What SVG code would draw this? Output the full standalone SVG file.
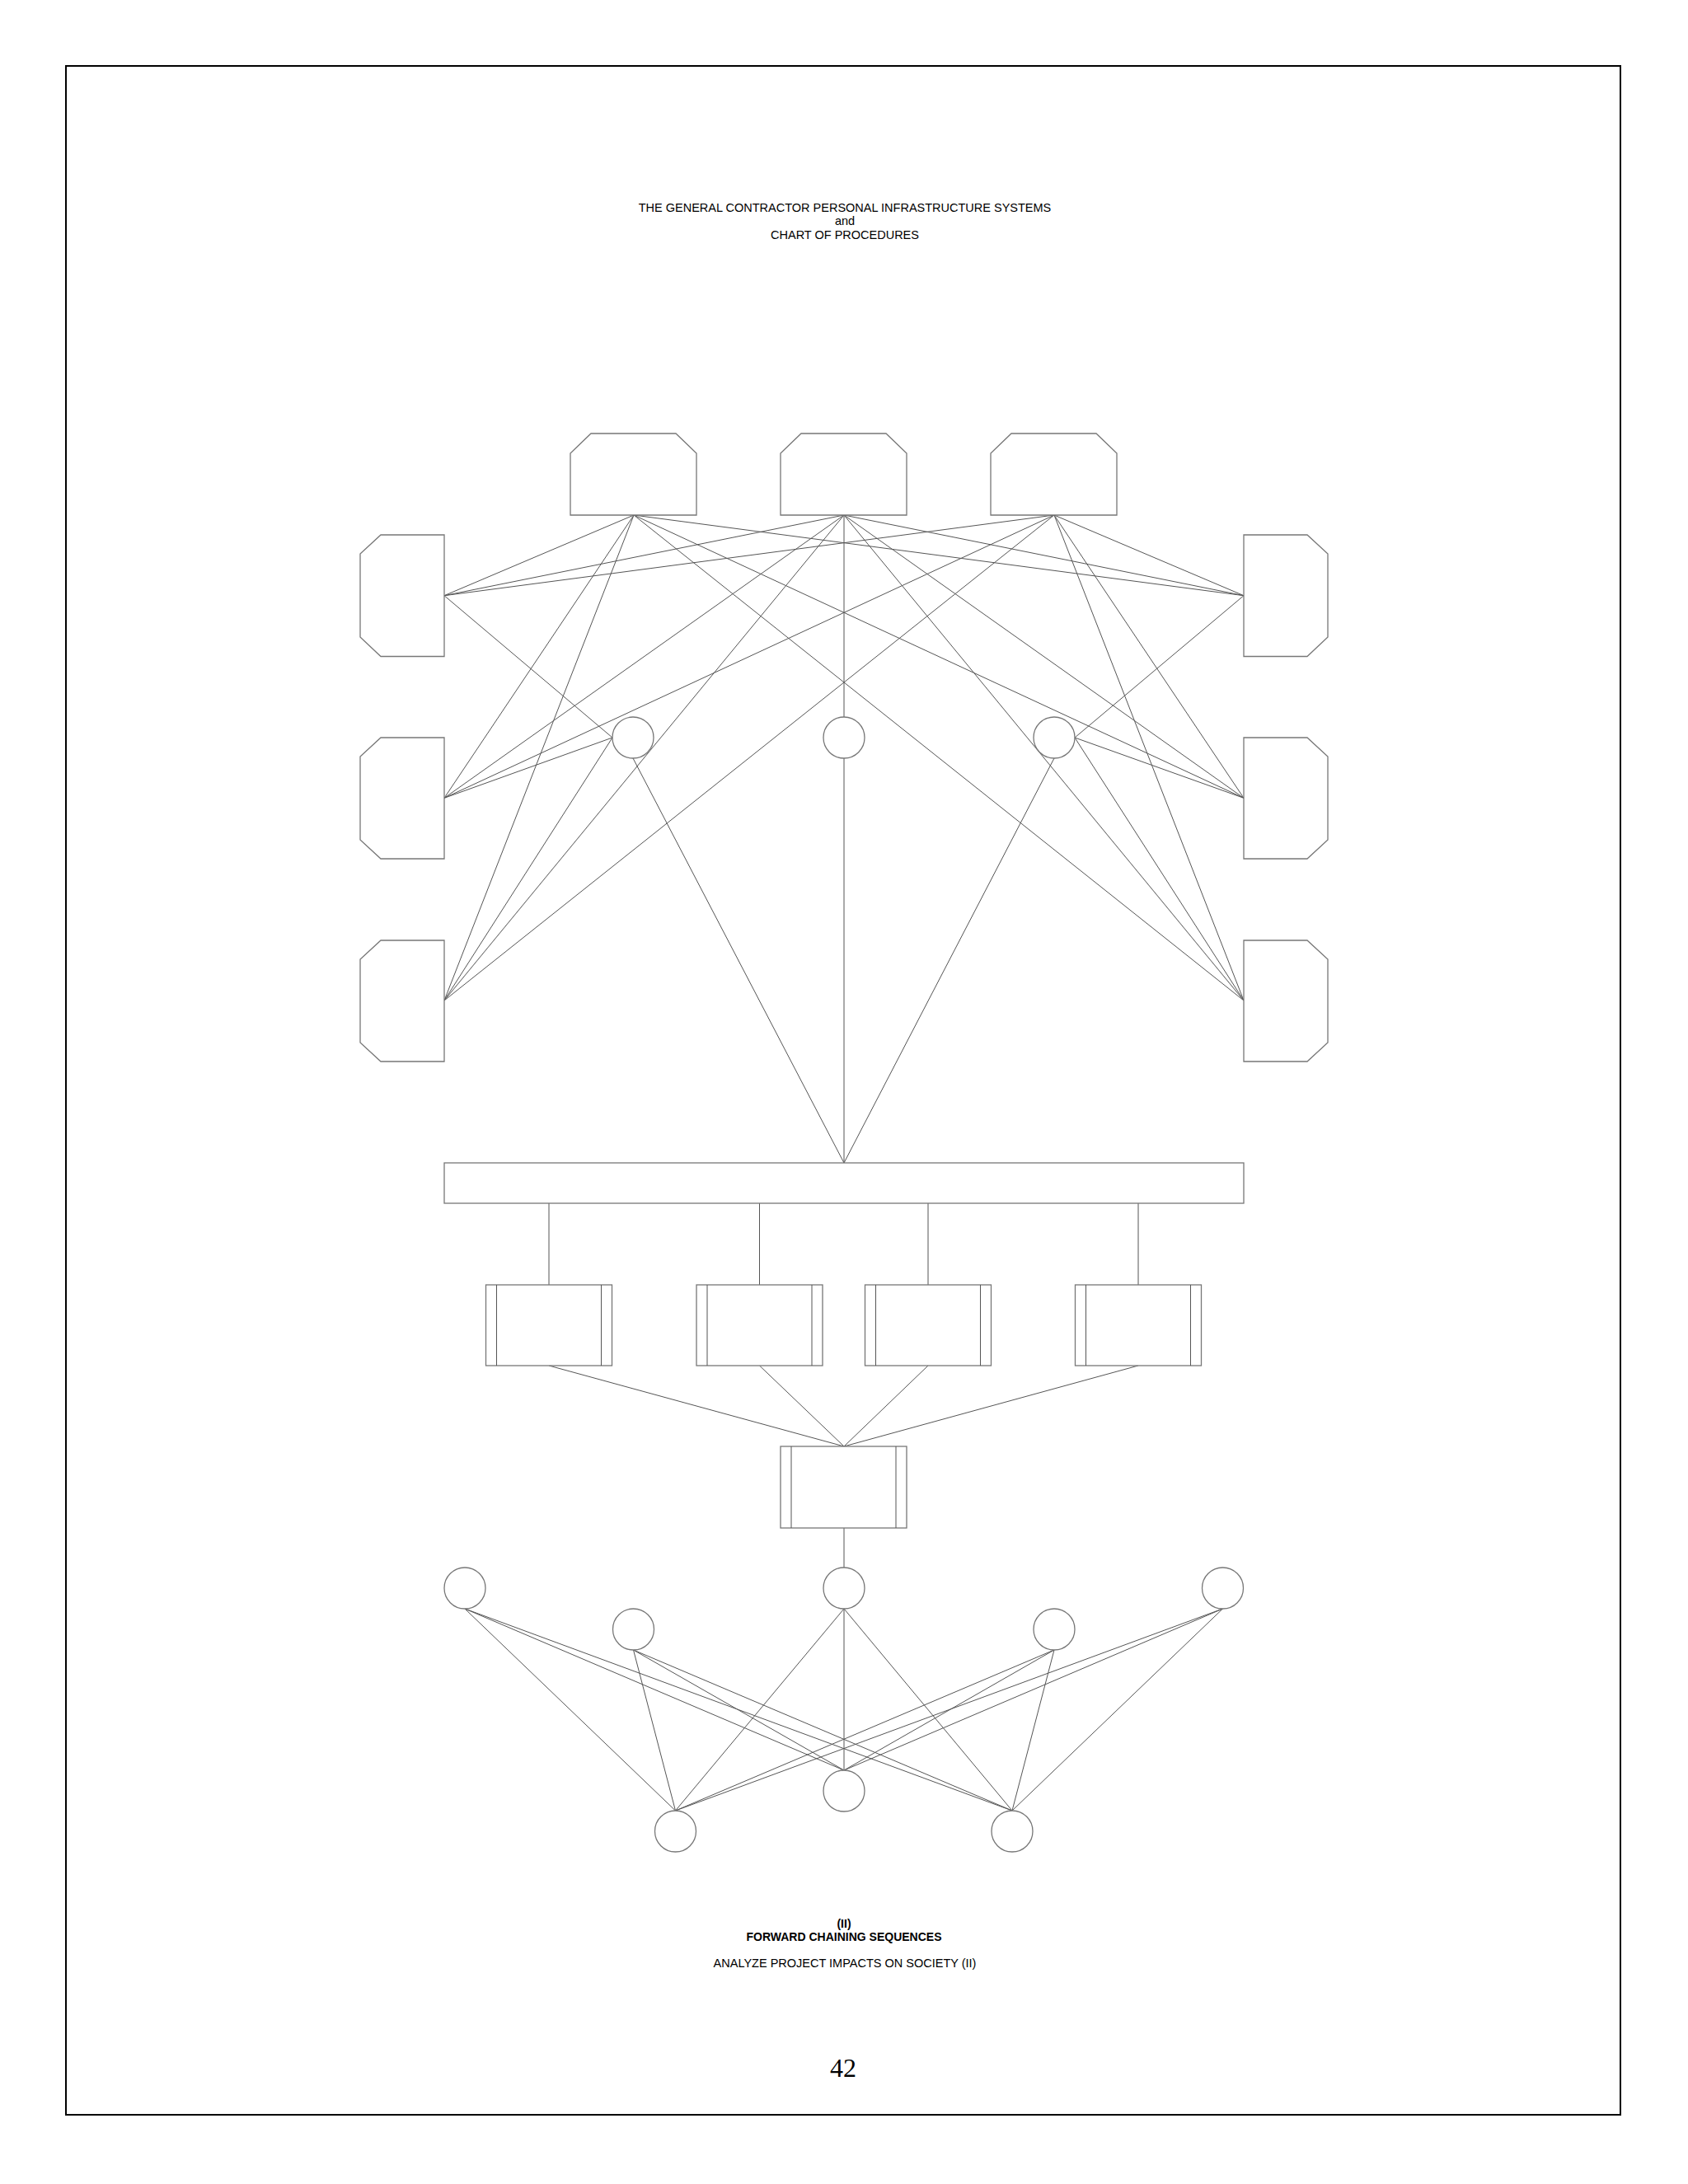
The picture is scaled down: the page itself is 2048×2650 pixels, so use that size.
<svg xmlns="http://www.w3.org/2000/svg" width="2048" height="2650" viewBox="0 0 2048 2650">
<style>
.shape{fill:#fff;stroke:#777;stroke-width:1.3}
.ln{stroke:#555;stroke-width:1;fill:none}
.t{font-family:"Liberation Sans",Arial,sans-serif;fill:#000;text-anchor:middle}
</style>
<rect width="2048" height="2650" fill="#fff"/>
<rect id="border" x="80" y="80" width="1886" height="2486" fill="none" stroke="#000" stroke-width="2"/>
<g id="title">
<text class="t" x="1025" y="257" font-size="14.5">THE GENERAL CONTRACTOR PERSONAL INFRASTRUCTURE SYSTEMS</text>
<text class="t" x="1025" y="273" font-size="14.5">and</text>
<text class="t" x="1025" y="289.5" font-size="14.5">CHART OF PROCEDURES</text>
</g>
<g id="connectors" class="ln">
<line x1="769" y1="625" x2="539" y2="722.7"/><line x1="769" y1="625" x2="539" y2="968.3"/><line x1="769" y1="625" x2="539" y2="1214"/>
<line x1="769" y1="625" x2="1509" y2="722.7"/><line x1="769" y1="625" x2="1509" y2="968.3"/><line x1="769" y1="625" x2="1509" y2="1214"/>
<line x1="1024" y1="625" x2="539" y2="722.7"/><line x1="1024" y1="625" x2="539" y2="968.3"/><line x1="1024" y1="625" x2="539" y2="1214"/>
<line x1="1024" y1="625" x2="1509" y2="722.7"/><line x1="1024" y1="625" x2="1509" y2="968.3"/><line x1="1024" y1="625" x2="1509" y2="1214"/>
<line x1="1279" y1="625" x2="539" y2="722.7"/><line x1="1279" y1="625" x2="539" y2="968.3"/><line x1="1279" y1="625" x2="539" y2="1214"/>
<line x1="1279" y1="625" x2="1509" y2="722.7"/><line x1="1279" y1="625" x2="1509" y2="968.3"/><line x1="1279" y1="625" x2="1509" y2="1214"/>
<line x1="539" y1="722.7" x2="743" y2="895"/><line x1="539" y1="968.3" x2="743" y2="895"/><line x1="539" y1="1214" x2="743" y2="895"/>
<line x1="1509" y1="722.7" x2="1304" y2="895"/><line x1="1509" y1="968.3" x2="1304" y2="895"/><line x1="1509" y1="1214" x2="1304" y2="895"/>
<line x1="1024" y1="625" x2="1024" y2="870"/>
<line x1="768" y1="920" x2="1024" y2="1411"/><line x1="1024" y1="920" x2="1024" y2="1411"/><line x1="1279" y1="920" x2="1024" y2="1411"/>
<line x1="666" y1="1460" x2="666" y2="1559"/><line x1="921.5" y1="1460" x2="921.5" y2="1559"/><line x1="1126" y1="1460" x2="1126" y2="1559"/><line x1="1381" y1="1460" x2="1381" y2="1559"/>
<line x1="666" y1="1657" x2="1024" y2="1755"/><line x1="921.5" y1="1657" x2="1024" y2="1755"/><line x1="1126" y1="1657" x2="1024" y2="1755"/><line x1="1381" y1="1657" x2="1024" y2="1755"/>
<line x1="1024" y1="1854" x2="1024" y2="1902"/>
<line x1="564" y1="1952" x2="819.5" y2="2197"/><line x1="564" y1="1952" x2="1024" y2="2148"/><line x1="564" y1="1952" x2="1228" y2="2197"/>
<line x1="768.5" y1="2002" x2="819.5" y2="2197"/><line x1="768.5" y1="2002" x2="1024" y2="2148"/><line x1="768.5" y1="2002" x2="1228" y2="2197"/>
<line x1="1024" y1="1952" x2="819.5" y2="2197"/><line x1="1024" y1="1952" x2="1024" y2="2148"/><line x1="1024" y1="1952" x2="1228" y2="2197"/>
<line x1="1279" y1="2002" x2="819.5" y2="2197"/><line x1="1279" y1="2002" x2="1024" y2="2148"/><line x1="1279" y1="2002" x2="1228" y2="2197"/>
<line x1="1483.5" y1="1952" x2="819.5" y2="2197"/><line x1="1483.5" y1="1952" x2="1024" y2="2148"/><line x1="1483.5" y1="1952" x2="1228" y2="2197"/>
</g>
<g id="top1"><path class="shape" d="M692,625 L692,550 L717,526 L820,526 L845,550 L845,625 Z"/></g>
<g id="top2"><path class="shape" d="M947,625 L947,550 L972,526 L1075,526 L1100,550 L1100,625 Z"/></g>
<g id="top3"><path class="shape" d="M1202,625 L1202,550 L1227,526 L1330,526 L1355,550 L1355,625 Z"/></g>
<g id="left1"><path class="shape" d="M539,649 L462,649 L437,672 L437,773 L462,796.5 L539,796.5 Z"/></g>
<g id="left2"><path class="shape" d="M539,895 L462,895 L437,918 L437,1019 L462,1042 L539,1042 Z"/></g>
<g id="left3"><path class="shape" d="M539,1141 L462,1141 L437,1164 L437,1265 L462,1288 L539,1288 Z"/></g>
<g id="right1"><path class="shape" d="M1509,649 L1586,649 L1611,672 L1611,773 L1586,796.5 L1509,796.5 Z"/></g>
<g id="right2"><path class="shape" d="M1509,895 L1586,895 L1611,918 L1611,1019 L1586,1042 L1509,1042 Z"/></g>
<g id="right3"><path class="shape" d="M1509,1141 L1586,1141 L1611,1164 L1611,1265 L1586,1288 L1509,1288 Z"/></g>
<g id="c1"><circle class="shape" cx="768" cy="895" r="25"/></g>
<g id="c2"><circle class="shape" cx="1024" cy="895" r="25"/></g>
<g id="c3"><circle class="shape" cx="1279" cy="895" r="25"/></g>
<g id="bar"><rect class="shape" x="539" y="1411" width="970" height="49"/></g>
<g id="p1"><rect class="shape" x="589.5" y="1559" width="153" height="98"/><line class="ln" x1="602.5" y1="1559" x2="602.5" y2="1657"/><line class="ln" x1="729.5" y1="1559" x2="729.5" y2="1657"/></g>
<g id="p2"><rect class="shape" x="845" y="1559" width="153" height="98"/><line class="ln" x1="858" y1="1559" x2="858" y2="1657"/><line class="ln" x1="985" y1="1559" x2="985" y2="1657"/></g>
<g id="p3"><rect class="shape" x="1049.5" y="1559" width="153" height="98"/><line class="ln" x1="1062.5" y1="1559" x2="1062.5" y2="1657"/><line class="ln" x1="1189.5" y1="1559" x2="1189.5" y2="1657"/></g>
<g id="p4"><rect class="shape" x="1304.5" y="1559" width="153" height="98"/><line class="ln" x1="1317.5" y1="1559" x2="1317.5" y2="1657"/><line class="ln" x1="1444.5" y1="1559" x2="1444.5" y2="1657"/></g>
<g id="p5"><rect class="shape" x="947" y="1755" width="153" height="99"/><line class="ln" x1="960" y1="1755" x2="960" y2="1854"/><line class="ln" x1="1087" y1="1755" x2="1087" y2="1854"/></g>
<g id="b1"><circle class="shape" cx="564" cy="1927" r="25"/></g>
<g id="b2"><circle class="shape" cx="768.5" cy="1977" r="25"/></g>
<g id="b3"><circle class="shape" cx="1024" cy="1927" r="25"/></g>
<g id="b4"><circle class="shape" cx="1279" cy="1977" r="25"/></g>
<g id="b5"><circle class="shape" cx="1483.5" cy="1927" r="25"/></g>
<g id="b6"><circle class="shape" cx="819.5" cy="2222" r="25"/></g>
<g id="b7"><circle class="shape" cx="1024" cy="2173" r="25"/></g>
<g id="b8"><circle class="shape" cx="1228" cy="2222" r="25"/></g>
<g id="caption">
<text class="t" x="1024" y="2339" font-size="14" font-weight="bold">(II)</text>
<text class="t" x="1024" y="2354.5" font-size="14" font-weight="bold">FORWARD CHAINING SEQUENCES</text>
<text class="t" x="1025" y="2387" font-size="14.5">ANALYZE PROJECT IMPACTS ON SOCIETY (II)</text>
<text x="1023" y="2520" font-size="32" text-anchor="middle" font-family="'Liberation Serif','Times New Roman',serif">42</text>
</g>
</svg>
